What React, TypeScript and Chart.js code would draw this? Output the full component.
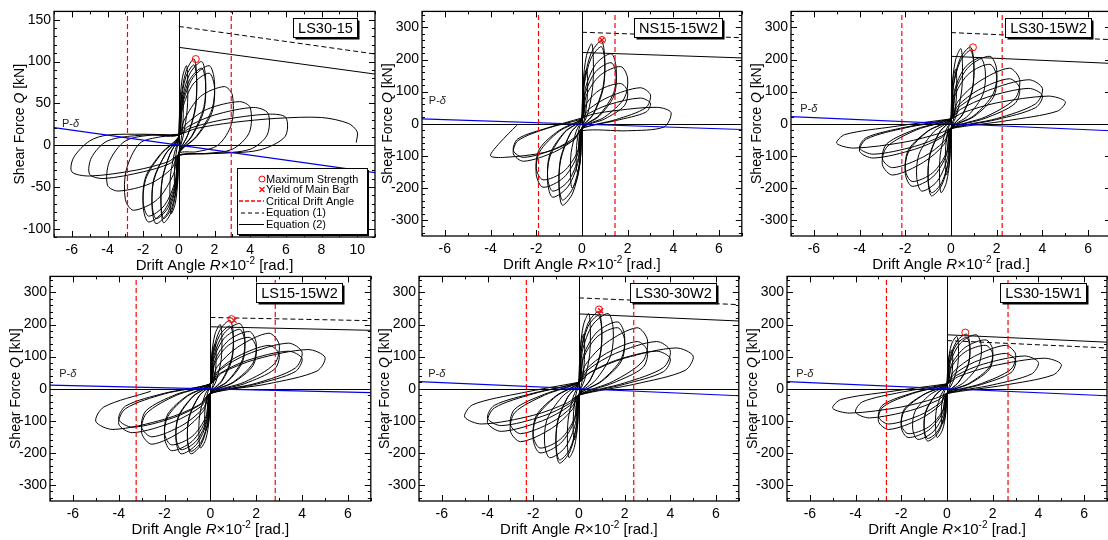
import React, { useEffect, useRef } from "react";
import { Chart, registerables } from "chart.js";
Chart.register(...registerables);

type Pt = [number, number];
const FONT = "'Liberation Sans', Arial, Helvetica, sans-serif";

// ---------------- tick labels ----------------
const X_TICKS_WIDE = [-6, -4, -2, 0, 2, 4, 6, 8, 10];
const X_TICKS = [-6, -4, -2, 0, 2, 4, 6];
const Y_TICKS_SMALL = [-100, -50, 0, 50, 100, 150];
const Y_TICKS = [-300, -200, -100, 0, 100, 200, 300];
const LEGEND_LABELS = ["Maximum Strength", "Yield of Main Bar", "Critical Drift Angle", "Equation (1)", "Equation (2)"];

// ---------------- LS30-15 ----------------
const LS30_15_LOOP: Pt[] = [
  [0, 0],
  [0, 10], [0.03, 30], [0.1, 51], [0.21, 60], [0.25, 48], [0.23, 27], [0.13, 7], [0, -10], [-0.03, -28], [-0.1, -47], [-0.21, -55], [-0.25, -44], [-0.23, -25], [-0.13, -7],
  [0, 10], [0.05, 48], [0.2, 81], [0.43, 95], [0.5, 76], [0.47, 43], [0.25, 11], [0, -10], [-0.05, -41], [-0.2, -70], [-0.43, -82], [-0.5, -66], [-0.47, -37], [-0.25, -10],
  [0, 10], [0.1, 52], [0.4, 88], [0.85, 103], [1, 82], [0.93, 46], [0.5, 12], [0, -10], [-0.1, -47], [-0.4, -79], [-0.85, -93], [-1, -74], [-0.93, -42], [-0.5, -11],
  [0, 10], [0.1, 48], [0.4, 82], [0.85, 96], [1, 77], [0.93, 43], [0.5, 12], [0, -10], [-0.1, -44], [-0.4, -75], [-0.85, -88], [-1, -70], [-0.93, -40], [-0.5, -11],
  [0, 10], [0.15, 50], [0.6, 85], [1.28, 100], [1.5, 80], [1.4, 45], [0.75, 12], [0, -10], [-0.15, -47], [-0.6, -80], [-1.28, -94], [-1.5, -75], [-1.4, -42], [-0.75, -11],
  [0, 10], [0.15, 46], [0.6, 78], [1.28, 92], [1.5, 74], [1.4, 41], [0.75, 11], [0, -10], [-0.15, -44], [-0.6, -75], [-1.28, -88], [-1.5, -70], [-1.4, -40], [-0.75, -11],
  [0, 10], [0.2, 48], [0.8, 81], [1.7, 95], [2, 76], [1.86, 43], [1, 11], [0, -10], [-0.2, -46], [-0.8, -78], [-1.7, -92], [-2, -74], [-1.86, -41], [-1, -11],
  [0, 10], [0.2, 43], [0.8, 73], [1.7, 86], [2, 69], [1.86, 39], [1, 10], [0, -10], [-0.2, -43], [-0.8, -72], [-1.7, -85], [-2, -68], [-1.86, -38], [-1, -10],
  [0, 10], [0.3, 30], [1.2, 58], [2.55, 70], [3, 60], [2.95, 25], [2.2, 0], [1, -8], [0, -10], [-0.3, -35], [-1.2, -65], [-2.55, -78], [-3, -65], [-2.95, -30], [-2.2, 2], [-1, 10],
  [0, 12], [0.4, 25], [1.6, 43], [3.4, 52], [4, 45], [3.95, 15], [3, -5], [1.5, -10], [0, -12], [-0.4, -28], [-1.6, -46], [-3.4, -55], [-4, -48], [-3.9, -20], [-3, 5], [-1.5, 12],
  [0, 12], [0.5, 22], [2, 36], [4.2, 45], [5, 38], [4.95, 12], [4, -5], [2, -10], [0, -12], [-0.5, -22], [-2, -32], [-4.2, -40], [-5, -35], [-4.9, -15], [-4, 5], [-2, 12],
  [0, 12], [0.6, 20], [2.4, 30], [5, 37], [6, 33], [5.95, 10], [4.5, -6], [2, -10], [0, -12], [-0.6, -20], [-2.4, -30], [-5, -37], [-6, -32], [-5.9, -15], [-5, 5], [-4, 12], [-2, 13],
  [0, 13], [1, 20], [3, 27], [5.5, 32], [8, 33], [9.5, 26], [10, 16], [9.95, 3],
];
const LS30_15_EQ1: Pt[] = [[0, 142], [11, 109]];
const LS30_15_EQ2: Pt[] = [[0, 117], [11, 85]];
const LS30_15_PD: Pt[] = [[-7, 21], [11, -33]];
const LS30_15_CRIT = [-2.88, 2.94];
const LS30_15_MAX: Pt = [0.95, 103];

// ---------------- NS15-15W2 ----------------
const NS15_15W2_LOOP: Pt[] = [
  [0, 0],
  [0, 15], [0.03, 85], [0.1, 145], [0.21, 170], [0.25, 136], [0.23, 77], [0.13, 20], [0, -15], [-0.03, -75], [-0.1, -128], [-0.21, -150], [-0.25, -120], [-0.23, -68], [-0.13, -18],
  [0, 15], [0.05, 125], [0.2, 212], [0.43, 249], [0.5, 199], [0.47, 112], [0.25, 30], [0, -15], [-0.05, -100], [-0.2, -170], [-0.43, -200], [-0.5, -160], [-0.47, -90], [-0.25, -24],
  [0, 15], [0.1, 129], [0.4, 219], [0.85, 258], [1, 206], [0.93, 116], [0.5, 31], [0, -15], [-0.1, -127], [-0.4, -216], [-0.85, -254], [-1, -203], [-0.93, -114], [-0.5, -30],
  [0, 15], [0.1, 120], [0.4, 204], [0.85, 240], [1, 192], [0.93, 108], [0.5, 29], [0, -15], [-0.1, -119], [-0.4, -202], [-0.85, -238], [-1, -190], [-0.93, -107], [-0.5, -29],
  [0, 15], [0.15, 109], [0.6, 185], [1.28, 218], [1.5, 174], [1.4, 98], [0.75, 26], [0, -15], [-0.15, -115], [-0.6, -195], [-1.28, -229], [-1.5, -183], [-1.4, -103], [-0.75, -27],
  [0, 15], [0.15, 95], [0.6, 162], [1.28, 190], [1.5, 152], [1.4, 86], [0.75, 23], [0, -15], [-0.15, -105], [-0.6, -179], [-1.28, -210], [-1.5, -168], [-1.4, -95], [-0.75, -25],
  [0, 15], [0.2, 89], [0.8, 151], [1.7, 178], [2, 142], [1.86, 80], [1, 21], [0, -15], [-0.2, -99], [-0.8, -168], [-1.7, -198], [-2, -158], [-1.86, -89], [-1, -24],
  [0, 15], [0.2, 63], [0.8, 106], [1.7, 125], [2, 100], [1.86, 56], [1, 15], [0, -15], [-0.2, -88], [-0.8, -149], [-1.7, -175], [-2, -140], [-1.86, -79], [-1, -21],
  [0, 15], [0.3, 45], [1.2, 84], [2.55, 112], [3, 90], [2.8, 50], [1.5, 13], [0, -15], [-0.3, -47], [-1.2, -88], [-2.55, -117], [-3, -94], [-2.8, -53], [-1.5, -14],
  [0, 15], [0.3, 32], [1.2, 60], [2.55, 80], [3, 64], [2.8, 36], [1.5, 10], [0, -15], [-0.3, -42], [-1.2, -79], [-2.55, -105], [-3, -84], [-2.8, -47], [-1.5, -13],
  [0, 18], [0.5, 30], [1.6, 42], [3.3, 51], [3.9, 35], [3.6, -10], [2, -22], [0, -22], [-0.4, -53], [-1.6, -89], [-3.4, -105], [-4, -100], [-3.6, -60], [-2.85, -5],
];
const NS15_15W2_EQ1: Pt[] = [[0, 285], [7, 268]];
const NS15_15W2_EQ2: Pt[] = [[0, 222], [7, 205]];
const NS15_15W2_PD: Pt[] = [[-7, 15], [7, -18]];
const NS15_15W2_CRIT = [-1.9, 1.45];
const NS15_15W2_MAX: Pt = [0.88, 261];
const NS15_15W2_YIELD: Pt = [0.88, 261];

// ---------------- LS30-15W2 ----------------
const LS30_15W2_LOOP: Pt[] = [
  [0, 0],
  [0, 15], [0.03, 85], [0.1, 145], [0.21, 170], [0.25, 136], [0.23, 77], [0.13, 20], [0, -15], [-0.03, -80], [-0.1, -136], [-0.21, -160], [-0.25, -128], [-0.23, -72], [-0.13, -19],
  [0, 15], [0.05, 117], [0.2, 199], [0.43, 234], [0.5, 187], [0.47, 105], [0.25, 28], [0, -15], [-0.05, -108], [-0.2, -183], [-0.43, -215], [-0.5, -172], [-0.47, -97], [-0.25, -26],
  [0, 15], [0.1, 120], [0.4, 203], [0.85, 239], [1, 191], [0.93, 108], [0.5, 29], [0, -15], [-0.1, -113], [-0.4, -191], [-0.85, -225], [-1, -180], [-0.93, -101], [-0.5, -27],
  [0, 15], [0.1, 114], [0.4, 194], [0.85, 228], [1, 182], [0.93, 103], [0.5, 27], [0, -15], [-0.1, -108], [-0.4, -183], [-0.85, -215], [-1, -172], [-0.93, -97], [-0.5, -26],
  [0, 15], [0.15, 103], [0.6, 174], [1.28, 205], [1.5, 164], [1.4, 92], [0.75, 25], [0, -15], [-0.15, -105], [-0.6, -179], [-1.28, -210], [-1.5, -168], [-1.4, -95], [-0.75, -25],
  [0, 15], [0.2, 105], [0.8, 179], [1.7, 210], [2, 168], [1.86, 95], [1, 25], [0, -15], [-0.2, -98], [-0.8, -166], [-1.7, -195], [-2, -156], [-1.86, -88], [-1, -23],
  [0, 15], [0.2, 93], [0.8, 157], [1.7, 185], [2, 148], [1.86, 83], [1, 22], [0, -15], [-0.2, -90], [-0.8, -153], [-1.7, -180], [-2, -144], [-1.86, -81], [-1, -22],
  [0, 15], [0.3, 69], [1.2, 130], [2.55, 173], [3, 138], [2.8, 78], [1.5, 21], [0, -15], [-0.3, -64], [-1.2, -120], [-2.55, -160], [-3, -128], [-2.8, -72], [-1.5, -19],
  [0, 15], [0.3, 56], [1.2, 105], [2.55, 140], [3, 112], [2.8, 63], [1.5, 17], [0, -15], [-0.3, -55], [-1.2, -103], [-2.55, -137], [-3, -110], [-2.8, -62], [-1.5, -16],
  [0, 15], [0.4, 55], [1.6, 103], [3.4, 137], [4, 110], [3.7, 62], [2, 16], [0, -15], [-0.4, -43], [-1.6, -80], [-3.4, -107], [-4, -86], [-3.7, -48], [-2, -13],
  [0, 15], [0.4, 44], [1.6, 83], [3.4, 110], [4, 88], [3.7, 50], [2, 13], [0, -15], [-0.4, -38], [-1.6, -71], [-3.4, -95], [-4, -76], [-3.7, -43], [-2, -11],
  [0, 15], [0.5, 34], [2, 65], [4.25, 86], [5, 69], [4.65, 39], [2.5, 10], [0, -15], [-0.5, -30], [-2, -57], [-4.25, -76], [-5, -61], [-4.65, -34], [-2.5, -9], [0, 15],
];
const LS30_15W2_EQ1: Pt[] = [[0, 284], [7, 262]];
const LS30_15W2_EQ2: Pt[] = [[0, 210], [7, 188]];
const LS30_15W2_PD: Pt[] = [[-7, 22], [7, -22]];
const LS30_15W2_CRIT = [-2.15, 2.24];
const LS30_15W2_MAX: Pt = [0.96, 238];

// ---------------- LS15-15W2 ----------------
const LS15_15W2_LOOP: Pt[] = [
  [0, 0],
  [0, 15], [0.03, 70], [0.1, 119], [0.21, 140], [0.25, 112], [0.23, 63], [0.13, 17], [0, -15], [-0.03, -65], [-0.1, -111], [-0.21, -130], [-0.25, -104], [-0.23, -59], [-0.13, -16],
  [0, 15], [0.05, 100], [0.2, 170], [0.43, 200], [0.5, 160], [0.47, 90], [0.25, 24], [0, -15], [-0.05, -93], [-0.2, -157], [-0.43, -185], [-0.5, -148], [-0.47, -83], [-0.25, -22],
  [0, 15], [0.1, 107], [0.4, 181], [0.85, 213], [1, 170], [0.93, 96], [0.5, 26], [0, -15], [-0.1, -102], [-0.4, -173], [-0.85, -203], [-1, -162], [-0.93, -91], [-0.5, -24],
  [0, 15], [0.1, 98], [0.4, 166], [0.85, 195], [1, 156], [0.93, 88], [0.5, 23], [0, -15], [-0.1, -98], [-0.4, -166], [-0.85, -195], [-1, -156], [-0.93, -88], [-0.5, -23],
  [0, 15], [0.15, 102], [0.6, 173], [1.28, 203], [1.5, 162], [1.4, 91], [0.75, 24], [0, -15], [-0.15, -102], [-0.6, -173], [-1.28, -203], [-1.5, -162], [-1.4, -91], [-0.75, -24],
  [0, 15], [0.15, 93], [0.6, 157], [1.28, 185], [1.5, 148], [1.4, 83], [0.75, 22], [0, -15], [-0.15, -95], [-0.6, -162], [-1.28, -190], [-1.5, -152], [-1.4, -86], [-0.75, -23],
  [0, 15], [0.2, 89], [0.8, 151], [1.7, 178], [2, 142], [1.86, 80], [1, 21], [0, -15], [-0.2, -97], [-0.8, -164], [-1.7, -193], [-2, -154], [-1.86, -87], [-1, -23],
  [0, 15], [0.2, 80], [0.8, 136], [1.7, 160], [2, 128], [1.86, 72], [1, 19], [0, -15], [-0.2, -88], [-0.8, -149], [-1.7, -175], [-2, -140], [-1.86, -79], [-1, -21],
  [0, 15], [0.3, 69], [1.2, 130], [2.55, 173], [3, 138], [2.8, 78], [1.5, 21], [0, -15], [-0.3, -69], [-1.2, -130], [-2.55, -173], [-3, -138], [-2.8, -78], [-1.5, -21],
  [0, 15], [0.3, 54], [1.2, 101], [2.55, 135], [3, 108], [2.8, 61], [1.5, 16], [0, -15], [-0.3, -60], [-1.2, -113], [-2.55, -150], [-3, -120], [-2.8, -68], [-1.5, -18],
  [0, 15], [0.4, 57], [1.6, 107], [3.4, 142], [4, 114], [3.7, 64], [2, 17], [0, -15], [-0.4, -55], [-1.6, -103], [-3.4, -137], [-4, -110], [-3.7, -62], [-2, -16],
  [0, 15], [0.4, 47], [1.6, 88], [3.4, 117], [4, 94], [3.7, 53], [2, 14], [0, -15], [-0.4, -48], [-1.6, -90], [-3.4, -120], [-4, -96], [-3.7, -54], [-2, -14],
  [0, 15], [0.5, 49], [2, 92], [4.25, 122], [5, 98], [4.65, 55], [2.5, 15], [0, -15], [-0.5, -51], [-2, -95], [-4.25, -127], [-5, -102], [-4.65, -57], [-2.6, -8],
];
const LS15_15W2_EQ1: Pt[] = [[0, 222], [7, 212]];
const LS15_15W2_EQ2: Pt[] = [[0, 193], [7, 182]];
const LS15_15W2_PD: Pt[] = [[-7, 11], [7, -12]];
const LS15_15W2_CRIT = [-3.24, 2.83];
const LS15_15W2_MAX: Pt = [0.92, 217];
const LS15_15W2_YIELD: Pt = [1.03, 213];

// ---------------- LS30-30W2 ----------------
const LS30_30W2_LOOP: Pt[] = [
  [0, 0],
  [0, 20], [0.03, 85], [0.1, 145], [0.21, 170], [0.25, 136], [0.23, 77], [0.13, 20], [0, -20], [-0.03, -80], [-0.1, -136], [-0.21, -160], [-0.25, -128], [-0.23, -72], [-0.13, -19],
  [0, 20], [0.05, 117], [0.2, 199], [0.43, 234], [0.5, 187], [0.47, 105], [0.25, 28], [0, -20], [-0.05, -108], [-0.2, -183], [-0.43, -215], [-0.5, -172], [-0.47, -97], [-0.25, -26],
  [0, 20], [0.1, 120], [0.4, 204], [0.85, 240], [1, 192], [0.93, 108], [0.5, 29], [0, -20], [-0.1, -116], [-0.4, -197], [-0.85, -232], [-1, -186], [-0.93, -104], [-0.5, -28],
  [0, 20], [0.1, 114], [0.4, 194], [0.85, 228], [1, 182], [0.93, 103], [0.5, 27], [0, -20], [-0.1, -111], [-0.4, -189], [-0.85, -222], [-1, -178], [-0.93, -100], [-0.5, -27],
  [0, 20], [0.15, 117], [0.6, 199], [1.28, 234], [1.5, 187], [1.4, 105], [0.75, 28], [0, -20], [-0.15, -108], [-0.6, -183], [-1.28, -215], [-1.5, -172], [-1.4, -97], [-0.75, -26],
  [0, 20], [0.2, 104], [0.8, 177], [1.7, 208], [2, 166], [1.86, 94], [1, 25], [0, -20], [-0.2, -100], [-0.8, -170], [-1.7, -200], [-2, -160], [-1.86, -90], [-1, -24],
  [0, 20], [0.2, 95], [0.8, 162], [1.7, 190], [2, 152], [1.86, 86], [1, 23], [0, -20], [-0.2, -93], [-0.8, -157], [-1.7, -185], [-2, -148], [-1.86, -83], [-1, -22],
  [0, 20], [0.3, 76], [1.2, 143], [2.55, 190], [3, 152], [2.8, 86], [1.5, 23], [0, -20], [-0.3, -66], [-1.2, -124], [-2.55, -165], [-3, -132], [-2.8, -74], [-1.5, -20],
  [0, 20], [0.3, 59], [1.2, 110], [2.55, 147], [3, 118], [2.8, 66], [1.5, 18], [0, -20], [-0.3, -56], [-1.2, -105], [-2.55, -140], [-3, -112], [-2.8, -63], [-1.5, -17],
  [0, 20], [0.4, 59], [1.6, 110], [3.4, 147], [4, 118], [3.7, 66], [2, 18], [0, -20], [-0.4, -53], [-1.6, -100], [-3.4, -133], [-4, -106], [-3.7, -60], [-2, -16],
  [0, 20], [0.4, 47], [1.6, 88], [3.4, 117], [4, 94], [3.7, 53], [2, 14], [0, -20], [-0.4, -46], [-1.6, -86], [-3.4, -115], [-4, -92], [-3.7, -52], [-2, -14],
  [0, 20], [0.5, 51], [2, 95], [4.25, 127], [5, 102], [4.65, 57], [2.5, 15], [0, -20], [-0.5, -44], [-2, -83], [-4.25, -110], [-5, -88], [-4.65, -50], [-2.5, -13], [0, 20],
];
const LS30_30W2_EQ1: Pt[] = [[0, 283], [7, 262]];
const LS30_30W2_EQ2: Pt[] = [[0, 233], [7, 211]];
const LS30_30W2_PD: Pt[] = [[-7, 22], [7, -22]];
const LS30_30W2_CRIT = [-2.3, 2.4];
const LS30_30W2_MAX: Pt = [0.88, 247];
const LS30_30W2_YIELD: Pt = [0.95, 243];

// ---------------- LS30-15W1 ----------------
const LS30_15W1_LOOP: Pt[] = [
  [0, 0],
  [0, 15], [0.03, 60], [0.1, 102], [0.21, 120], [0.25, 96], [0.23, 54], [0.13, 14], [0, -15], [-0.03, -55], [-0.1, -94], [-0.21, -110], [-0.25, -88], [-0.23, -50], [-0.13, -13],
  [0, 15], [0.05, 82], [0.2, 139], [0.43, 163], [0.5, 130], [0.47, 73], [0.25, 20], [0, -15], [-0.05, -76], [-0.2, -129], [-0.43, -152], [-0.5, -122], [-0.47, -68], [-0.25, -18],
  [0, 15], [0.1, 85], [0.4, 145], [0.85, 170], [1, 136], [0.93, 77], [0.5, 20], [0, -15], [-0.1, -82], [-0.4, -139], [-0.85, -163], [-1, -130], [-0.93, -73], [-0.5, -20],
  [0, 15], [0.1, 80], [0.4, 136], [0.85, 160], [1, 128], [0.93, 72], [0.5, 19], [0, -15], [-0.1, -78], [-0.4, -132], [-0.85, -155], [-1, -124], [-0.93, -70], [-0.5, -19],
  [0, 15], [0.15, 84], [0.6, 143], [1.28, 168], [1.5, 134], [1.4, 76], [0.75, 20], [0, -15], [-0.15, -79], [-0.6, -134], [-1.28, -158], [-1.5, -126], [-1.4, -71], [-0.75, -19],
  [0, 15], [0.2, 76], [0.8, 129], [1.7, 152], [2, 122], [1.86, 68], [1, 18], [0, -15], [-0.2, -76], [-0.8, -129], [-1.7, -152], [-2, -122], [-1.86, -68], [-1, -18],
  [0, 15], [0.2, 68], [0.8, 115], [1.7, 135], [2, 108], [1.86, 61], [1, 16], [0, -15], [-0.2, -70], [-0.8, -119], [-1.7, -140], [-2, -112], [-1.86, -63], [-1, -17],
  [0, 15], [0.3, 54], [1.2, 101], [2.55, 135], [3, 108], [2.8, 61], [1.5, 16], [0, -15], [-0.3, -51], [-1.2, -95], [-2.55, -127], [-3, -102], [-2.8, -57], [-1.5, -15],
  [0, 15], [0.3, 44], [1.2, 83], [2.55, 110], [3, 88], [2.8, 50], [1.5, 13], [0, -15], [-0.3, -44], [-1.2, -83], [-2.55, -110], [-3, -88], [-2.8, -50], [-1.5, -13],
  [0, 15], [0.4, 41], [1.6, 77], [3.4, 102], [4, 82], [3.7, 46], [2, 12], [0, -15], [-0.4, -36], [-1.6, -68], [-3.4, -91], [-4, -73], [-3.7, -41], [-2, -11],
  [0, 15], [0.5, 38], [2, 71], [4.25, 95], [5, 76], [4.65, 43], [2.5, 11], [0, -15], [-0.5, -30], [-2, -57], [-4.25, -76], [-5, -61], [-4.65, -34], [-2.5, -9], [0, 15],
];
const LS30_15W1_EQ1: Pt[] = [[0, 150], [7, 127]];
const LS30_15W1_EQ2: Pt[] = [[0, 168], [7, 145]];
const LS30_15W1_PD: Pt[] = [[-7, 22], [7, -22]];
const LS30_15W1_CRIT = [-2.65, 2.67];
const LS30_15W1_MAX: Pt = [0.8, 175];

// ---------------- panel layout ----------------
interface PanelDef {
  name: string;
  loop: Pt[]; eq1: Pt[]; eq2: Pt[]; pd: Pt[]; pdLabel: Pt; crit: number[]; maxPt: Pt; yieldPt: Pt | null;
  xMin: number; xMax: number; yMin: number; yMax: number;
  xTicks: number[]; yTicks: number[]; xMinor: number; yMinor: number;
  left: number; top: number; plotW: number; plotH: number; boxRight: number; legend: boolean;
}

const PANELS: PanelDef[] = [
  { name: "LS30-15", loop: LS30_15_LOOP, eq1: LS30_15_EQ1, eq2: LS30_15_EQ2, pd: LS30_15_PD, pdLabel: [-6.55, 25], crit: LS30_15_CRIT, maxPt: LS30_15_MAX, yieldPt: null,
    xMin: -7, xMax: 11, yMin: -110, yMax: 160, xTicks: X_TICKS_WIDE, yTicks: Y_TICKS_SMALL, xMinor: 1, yMinor: 10,
    left: 54, top: 6, plotW: 322, plotH: 231, boxRight: 18, legend: true },
  { name: "NS15-15W2", loop: NS15_15W2_LOOP, eq1: NS15_15W2_EQ1, eq2: NS15_15W2_EQ2, pd: NS15_15W2_PD, pdLabel: [-6.7, 71], crit: NS15_15W2_CRIT, maxPt: NS15_15W2_MAX, yieldPt: NS15_15W2_YIELD,
    xMin: -7, xMax: 7, yMin: -350, yMax: 350, xTicks: X_TICKS, yTicks: Y_TICKS, xMinor: 1, yMinor: 20,
    left: 422, top: 6, plotW: 321, plotH: 230, boxRight: 20, legend: false },
  { name: "LS30-15W2", loop: LS30_15W2_LOOP, eq1: LS30_15W2_EQ1, eq2: LS30_15W2_EQ2, pd: LS30_15W2_PD, pdLabel: [-6.6, 45], crit: LS30_15W2_CRIT, maxPt: LS30_15W2_MAX, yieldPt: null,
    xMin: -7, xMax: 7, yMin: -350, yMax: 350, xTicks: X_TICKS, yTicks: Y_TICKS, xMinor: 1, yMinor: 20,
    left: 791, top: 6, plotW: 321, plotH: 230, boxRight: 20, legend: false },
  { name: "LS15-15W2", loop: LS15_15W2_LOOP, eq1: LS15_15W2_EQ1, eq2: LS15_15W2_EQ2, pd: LS15_15W2_PD, pdLabel: [-6.6, 46], crit: LS15_15W2_CRIT, maxPt: LS15_15W2_MAX, yieldPt: LS15_15W2_YIELD,
    xMin: -7, xMax: 7, yMin: -350, yMax: 350, xTicks: X_TICKS, yTicks: Y_TICKS, xMinor: 1, yMinor: 20,
    left: 50, top: 271, plotW: 322, plotH: 230, boxRight: 29, legend: false },
  { name: "LS30-30W2", loop: LS30_30W2_LOOP, eq1: LS30_30W2_EQ1, eq2: LS30_30W2_EQ2, pd: LS30_30W2_PD, pdLabel: [-6.6, 46], crit: LS30_30W2_CRIT, maxPt: LS30_30W2_MAX, yieldPt: LS30_30W2_YIELD,
    xMin: -7, xMax: 7, yMin: -350, yMax: 350, xTicks: X_TICKS, yTicks: Y_TICKS, xMinor: 1, yMinor: 20,
    left: 419, top: 271, plotW: 321, plotH: 230, boxRight: 23, legend: false },
  { name: "LS30-15W1", loop: LS30_15W1_LOOP, eq1: LS30_15W1_EQ1, eq2: LS30_15W1_EQ2, pd: LS30_15W1_PD, pdLabel: [-6.6, 46], crit: LS30_15W1_CRIT, maxPt: LS30_15W1_MAX, yieldPt: null,
    xMin: -7, xMax: 7, yMin: -350, yMax: 350, xTicks: X_TICKS, yTicks: Y_TICKS, xMinor: 1, yMinor: 20,
    left: 787, top: 271, plotW: 321, plotH: 230, boxRight: 21, legend: false },
];

const Y_AXIS_W = 54;
const X_AXIS_H = 38;
const PAD_TOP = 6;
const PAD_RIGHT = 4;

type Seg = { t: string; it?: boolean; sup?: boolean };

function drawSegs(ctx: CanvasRenderingContext2D, segs: Seg[], cx: number, cy: number, size: number) {
  const fontOf = (s: Seg) => `${s.it ? "italic " : ""}${s.sup ? Math.round(size * 0.68) : size}px ${FONT}`;
  let total = 0;
  const widths = segs.map((s) => {
    ctx.font = fontOf(s);
    const w = ctx.measureText(s.t).width;
    total += w;
    return w;
  });
  let x = cx - total / 2;
  ctx.textAlign = "left";
  ctx.textBaseline = "alphabetic";
  ctx.fillStyle = "#000";
  const base = cy + size * 0.36;
  segs.forEach((s, i) => {
    ctx.font = fontOf(s);
    ctx.fillText(s.t, x, s.sup ? base - size * 0.42 : base);
    x += widths[i];
  });
}

function shadowBox(ctx: CanvasRenderingContext2D, x: number, y: number, w: number, h: number, off: number) {
  ctx.fillStyle = "#000";
  ctx.fillRect(x + off, y + off, w, h);
  ctx.fillStyle = "#fff";
  ctx.fillRect(x, y, w, h);
  ctx.strokeStyle = "#000";
  ctx.lineWidth = 1;
  ctx.setLineDash([]);
  ctx.strokeRect(x + 0.5, y + 0.5, w, h);
}

function makeDeco(p: PanelDef) {
  return {
    id: "deco",
    beforeDatasetsDraw(chart: any) {
      const { ctx, chartArea: a } = chart;
      const xs = chart.scales.x, ys = chart.scales.y;
      ctx.save();
      ctx.strokeStyle = "#000";
      ctx.lineWidth = 1;
      const x0 = Math.round(xs.getPixelForValue(0)) + 0.5;
      const y0 = Math.round(ys.getPixelForValue(0)) + 0.5;
      ctx.beginPath();
      ctx.moveTo(x0, a.top);
      ctx.lineTo(x0, a.bottom);
      ctx.moveTo(a.left, y0);
      ctx.lineTo(a.right, y0);
      ctx.stroke();
      ctx.restore();
    },
    afterDraw(chart: any) {
      const ctx: CanvasRenderingContext2D = chart.ctx;
      const a = chart.chartArea;
      const xs = chart.scales.x, ys = chart.scales.y;
      ctx.save();
      // inward ticks
      ctx.strokeStyle = "#000";
      ctx.lineWidth = 1;
      ctx.setLineDash([]);
      ctx.beginPath();
      for (let v = Math.ceil(p.xMin / p.xMinor) * p.xMinor; v <= p.xMax + 1e-9; v += p.xMinor) {
        const px = Math.round(xs.getPixelForValue(v)) + 0.5;
        const len = p.xTicks.includes(Math.round(v * 1000) / 1000) ? 6 : 3;
        ctx.moveTo(px, a.bottom); ctx.lineTo(px, a.bottom - len);
        ctx.moveTo(px, a.top); ctx.lineTo(px, a.top + len);
      }
      for (let v = Math.ceil(p.yMin / p.yMinor) * p.yMinor; v <= p.yMax + 1e-9; v += p.yMinor) {
        const py = Math.round(ys.getPixelForValue(v)) + 0.5;
        const len = p.yTicks.includes(Math.round(v * 1000) / 1000) ? 6 : 3;
        ctx.moveTo(a.left, py); ctx.lineTo(a.left + len, py);
        ctx.moveTo(a.right, py); ctx.lineTo(a.right - len, py);
      }
      ctx.stroke();
      // frame
      ctx.lineWidth = 1.3;
      ctx.strokeRect(a.left, a.top, a.right - a.left, a.bottom - a.top);

      // P-delta label
      const lx = xs.getPixelForValue(p.pdLabel[0]);
      const ly = ys.getPixelForValue(p.pdLabel[1]);
      ctx.fillStyle = "#222";
      ctx.textAlign = "left";
      ctx.textBaseline = "middle";
      ctx.font = `11px ${FONT}`;
      ctx.fillText("P-", lx, ly);
      const pw = ctx.measureText("P-").width;
      ctx.font = `italic 11px ${FONT}`;
      ctx.fillText("δ", lx + pw, ly);

      // specimen title box
      ctx.font = `14.5px ${FONT}`;
      const tw = ctx.measureText(p.name).width;
      const bw = Math.round(tw + 9), bh = 19;
      const bx = Math.round(a.right - p.boxRight - bw), by = Math.round(a.top + 7);
      shadowBox(ctx, bx, by, bw, bh, 2.5);
      ctx.fillStyle = "#000";
      ctx.textAlign = "center";
      ctx.textBaseline = "middle";
      ctx.font = `14.5px ${FONT}`;
      ctx.fillText(p.name, bx + bw / 2 + 0.5, by + bh / 2 + 1);

      // legend
      if (p.legend) {
        const lxb = Math.round(a.left + 183), lyb = Math.round(a.top + 157);
        shadowBox(ctx, lxb, lyb, 130, 66, 2);
        const rows = [11, 21.5, 33, 44.5, 56];
        const sx = lxb + 25;
        ctx.lineWidth = 1;
        ctx.strokeStyle = "#ff0000";
        ctx.beginPath();
        ctx.arc(sx, lyb + rows[0], 3, 0, Math.PI * 2);
        ctx.stroke();
        ctx.lineWidth = 1.2;
        ctx.beginPath();
        ctx.moveTo(sx - 2.5, lyb + rows[1] - 2.5); ctx.lineTo(sx + 2.5, lyb + rows[1] + 2.5);
        ctx.moveTo(sx + 2.5, lyb + rows[1] - 2.5); ctx.lineTo(sx - 2.5, lyb + rows[1] + 2.5);
        ctx.stroke();
        ctx.lineWidth = 1.4;
        ctx.setLineDash([4, 2]);
        ctx.beginPath();
        ctx.moveTo(lxb + 2, lyb + rows[2]); ctx.lineTo(lxb + 27, lyb + rows[2]);
        ctx.stroke();
        ctx.strokeStyle = "#000";
        ctx.lineWidth = 1;
        ctx.setLineDash([4, 3]);
        ctx.beginPath();
        ctx.moveTo(lxb + 4, lyb + rows[3] + 0.5); ctx.lineTo(lxb + 27, lyb + rows[3] + 0.5);
        ctx.stroke();
        ctx.setLineDash([]);
        ctx.beginPath();
        ctx.moveTo(lxb + 2, lyb + rows[4] + 0.5); ctx.lineTo(lxb + 27, lyb + rows[4] + 0.5);
        ctx.stroke();
        ctx.fillStyle = "#000";
        ctx.textAlign = "left";
        ctx.textBaseline = "middle";
        ctx.font = `11px ${FONT}`;
        LEGEND_LABELS.forEach((t, i) => ctx.fillText(t, lxb + 29, lyb + rows[i] + 0.5));
      }

      // axis titles
      const cxp = (a.left + a.right) / 2;
      drawSegs(ctx, [{ t: "Drift Angle " }, { t: "R", it: true }, { t: "×10" }, { t: "-2", sup: true }, { t: " [rad.]" }], cxp, a.bottom + 27.5, 15);
      ctx.save();
      ctx.translate(a.left - 35, (a.top + a.bottom) / 2);
      ctx.rotate(-Math.PI / 2);
      drawSegs(ctx, [{ t: "Shear Force " }, { t: "Q", it: true }, { t: " [kN]" }], 0, 0, 14);
      ctx.restore();
      ctx.restore();
    },
  };
}

const toXY = (pts: Pt[]) => pts.map(([x, y]) => ({ x, y }));

function buildConfig(p: PanelDef): any {
  const lineDs = (pts: Pt[], color: string, width: number, dash: number[] = []) => ({
    data: toXY(pts), showLine: true, borderColor: color, borderWidth: width, borderDash: dash,
    pointRadius: 0, pointHoverRadius: 0, fill: false, tension: 0,
  });
  const datasets: any[] = [
    { data: toXY([p.maxPt]), pointStyle: "circle", pointRadius: 3.5, borderColor: "#ff0000", backgroundColor: "rgba(0,0,0,0)", borderWidth: 1, showLine: false },
  ];
  if (p.yieldPt) {
    datasets.push({ data: toXY([p.yieldPt]), pointStyle: "crossRot", pointRadius: 3.5, borderColor: "#ff0000", backgroundColor: "#ff0000", borderWidth: 1.2, showLine: false });
  }
  p.crit.forEach((c) => datasets.push(lineDs([[c, p.yMin], [c, p.yMax]], "#ff0000", 1.2, [5, 3])));
  datasets.push(lineDs(p.pd, "#0000e6", 1.2));
  datasets.push(lineDs(p.eq1, "#000", 1, [5, 3]));
  datasets.push(lineDs(p.eq2, "#000", 1));
  datasets.push({ ...lineDs(p.loop, "#000", 1), tension: 0.3 });

  const tickFont = { family: FONT, size: 14 };
  return {
    type: "scatter",
    data: { datasets },
    plugins: [makeDeco(p)],
    options: {
      animation: false,
      responsive: false,
      maintainAspectRatio: false,
      events: [],
      layout: { padding: { top: PAD_TOP, right: PAD_RIGHT, left: 0, bottom: 0 } },
      plugins: { legend: { display: false }, tooltip: { enabled: false } },
      scales: {
        x: {
          type: "linear", min: p.xMin, max: p.xMax,
          grid: { display: false, drawTicks: false }, border: { display: false },
          ticks: { font: tickFont, color: "#000", padding: 5, maxRotation: 0 },
          afterBuildTicks: (axis: any) => { axis.ticks = p.xTicks.map((v) => ({ value: v })); },
          afterFit: (axis: any) => { axis.height = X_AXIS_H; },
        },
        y: {
          type: "linear", min: p.yMin, max: p.yMax,
          grid: { display: false, drawTicks: false }, border: { display: false },
          ticks: { font: tickFont, color: "#000", padding: 3 },
          afterBuildTicks: (axis: any) => { axis.ticks = p.yTicks.map((v) => ({ value: v })); },
          afterFit: (axis: any) => { axis.width = Y_AXIS_W; },
        },
      },
    },
  };
}

function Panel({ p }: { p: PanelDef }) {
  const ref = useRef<HTMLCanvasElement>(null);
  const w = Y_AXIS_W + p.plotW + PAD_RIGHT;
  const h = PAD_TOP + p.plotH + X_AXIS_H;
  useEffect(() => {
    if (!ref.current) return;
    const chart = new Chart(ref.current, buildConfig(p));
    return () => chart.destroy();
  }, []);
  return (
    <canvas
      ref={ref}
      width={w}
      height={h}
      style={{ position: "absolute", left: p.left - Y_AXIS_W, top: p.top - PAD_TOP, width: w, height: h }}
    />
  );
}

export default function App() {
  return (
    <div style={{ position: "fixed", left: 0, top: 0, width: 1108, height: 540, overflow: "hidden", background: "#fff" }}>
      {PANELS.map((p) => (
        <Panel key={p.name} p={p} />
      ))}
    </div>
  );
}
